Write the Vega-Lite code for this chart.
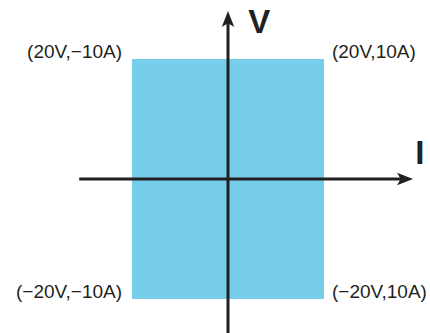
{
  "$schema": "https://vega.github.io/schema/vega-lite/v6.json",
  "width": 430,
  "height": 333,
  "autosize": {"type": "none"},
  "padding": 0,
  "background": "white",
  "config": {"view": {"stroke": null}},
  "datasets": {
    "region": [{"I1": -10, "I2": 10, "V1": -20, "V2": 20}],
    "hline": [{"I1": -15.5, "I2": 18.4, "V": 0}],
    "vline": [{"I": 0, "V1": -25.67, "V2": 26.5}],
    "arrowR": [{"I": 18.44, "V": 0}],
    "arrowU": [{"I": 0, "V": 26.67}],
    "labelsL": [
      {"I": -11.04, "V": 20.17, "t": "(20V,−10A)"},
      {"I": -11.04, "V": -19.83, "t": "(−20V,−10A)"}
    ],
    "labelsR": [
      {"I": 10.83, "V": 20.17, "t": "(20V,10A)"},
      {"I": 10.83, "V": -19.83, "t": "(−20V,10A)"}
    ],
    "axisNames": [
      {"I": 2.1, "V": 24.33, "t": "V"},
      {"I": 19.5, "V": 2.5, "t": "I"}
    ]
  },
  "layer": [
    {
      "data": {"name": "region"},
      "mark": {"type": "rect", "color": "#76CEEA"},
      "encoding": {
        "x": {"field": "I1", "type": "quantitative", "scale": {"domain": [-23.75, 21.04], "nice": false, "zero": false}, "axis": null},
        "x2": {"field": "I2"},
        "y": {"field": "V1", "type": "quantitative", "scale": {"domain": [-25.67, 29.83], "nice": false, "zero": false}, "axis": null},
        "y2": {"field": "V2"}
      }
    },
    {
      "data": {"name": "hline"},
      "mark": {"type": "rule", "color": "#231F20", "strokeWidth": 3},
      "encoding": {
        "x": {"field": "I1", "type": "quantitative"},
        "x2": {"field": "I2"},
        "y": {"field": "V", "type": "quantitative"}
      }
    },
    {
      "data": {"name": "vline"},
      "mark": {"type": "rule", "color": "#231F20", "strokeWidth": 3},
      "encoding": {
        "x": {"field": "I", "type": "quantitative"},
        "y": {"field": "V1", "type": "quantitative"},
        "y2": {"field": "V2"}
      }
    },
    {
      "data": {"name": "arrowR"},
      "mark": {"type": "point", "filled": true, "color": "#231F20", "opacity": 1, "size": 256, "shape": "M1,0L-1,-0.78L-0.55,0L-1,0.78Z"},
      "encoding": {
        "x": {"field": "I", "type": "quantitative"},
        "y": {"field": "V", "type": "quantitative"}
      }
    },
    {
      "data": {"name": "arrowU"},
      "mark": {"type": "point", "filled": true, "color": "#231F20", "opacity": 1, "size": 256, "shape": "M0,-1L-0.78,1L0,0.55L0.78,1Z"},
      "encoding": {
        "x": {"field": "I", "type": "quantitative"},
        "y": {"field": "V", "type": "quantitative"}
      }
    },
    {
      "data": {"name": "labelsL"},
      "mark": {"type": "text", "align": "right", "baseline": "alphabetic", "font": "Liberation Sans", "fontSize": 19, "color": "#231F20"},
      "encoding": {
        "x": {"field": "I", "type": "quantitative"},
        "y": {"field": "V", "type": "quantitative"},
        "text": {"field": "t"}
      }
    },
    {
      "data": {"name": "labelsR"},
      "mark": {"type": "text", "align": "left", "baseline": "alphabetic", "font": "Liberation Sans", "fontSize": 19, "color": "#231F20"},
      "encoding": {
        "x": {"field": "I", "type": "quantitative"},
        "y": {"field": "V", "type": "quantitative"},
        "text": {"field": "t"}
      }
    },
    {
      "data": {"name": "axisNames"},
      "mark": {"type": "text", "align": "left", "baseline": "alphabetic", "font": "'Liberation Sans Narrow', 'Liberation Sans'", "fontWeight": "bold", "fontSize": 33, "color": "#231F20"},
      "encoding": {
        "x": {"field": "I", "type": "quantitative"},
        "y": {"field": "V", "type": "quantitative"},
        "text": {"field": "t"}
      }
    }
  ]
}
